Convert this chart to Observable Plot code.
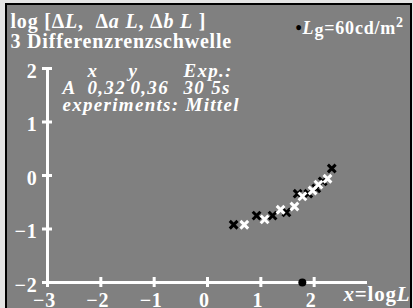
<!DOCTYPE html>
<html><head><meta charset="utf-8">
<script src="https://cdn.jsdelivr.net/npm/d3@7"></script>
<script src="https://cdn.jsdelivr.net/npm/@observablehq/plot@0.6"></script>
<style>
body{margin:0;background:#e4e4e4;}
#frame{position:absolute;left:5px;top:3px;width:403px;height:310px;border:2px solid #000;border-bottom:none;background:#808080;overflow:hidden;}
#frame svg{display:block;background:#808080;}
#frame svg text{white-space:pre;letter-spacing:0.8px;}
#frame svg g[font-style="italic"] text{letter-spacing:1.3px;}
</style></head><body><div id="frame"></div>
<script>
const xTicks = [-3, -2, -1, 0, 1, 2];
const xTickLabels = ["−3", "−2", "−1", "0", "1", "2"];
const yTicks = [-2, -1, 0, 1, 2];
const yTickLabels = ["−2", "−1", "0", "1", "2"];
const blackX = [0.49, 0.92, 1.22, 1.48, 1.69, 1.89, 2.04, 2.16, 2.33];
const blackY = [-0.92, -0.75, -0.75, -0.69, -0.34, -0.34, -0.24, -0.11, 0.13];
const whiteX = [0.69, 1.07, 1.37, 1.63, 1.78, 1.97, 2.08, 2.25];
const whiteY = [-0.92, -0.82, -0.64, -0.58, -0.39, -0.28, -0.17, -0.06];
const adaptLum = [60];
const titleLines = ["log [ΔL,  Δa L, Δb L ]", "3 Differenzrenzschwelle"];
const infoHeader = ["x", "y", "Exp.:"];
const infoValues = ["A", "0,32", "0,36", "30 5s"];
const infoNote = "experiments: Mittel";
const lumLabel = "•Lg=60cd/m2";
const xLabel = "x=logL";

const F = "Liberation Serif, Times New Roman, serif";
const big = {fill: "white", fontFamily: F, fontWeight: "bold", fontSize: 20};
const ital = {...big, fontStyle: "italic", fontSize: 19};
const hdrDx = [40, 81, 136];
const valDx = [15, 40, 83, 136];

const plot = Plot.plot({
  width: 403, height: 303,
  marginLeft: 40, marginRight: 43, marginTop: 63, marginBottom: 26,
  x: {domain: [-3, 3], axis: null},
  y: {domain: [-2, 2], axis: null},
  style: {background: "#808080", overflow: "visible"},
  marks: [
    Plot.ruleY([-2], {x1: -3, x2: 3, stroke: "white", strokeWidth: 3, insetLeft: -1.5}),
    Plot.ruleX([-3], {y1: -2, y2: 2, stroke: "white", strokeWidth: 3, insetBottom: -1.5}),
    Plot.ruleX(xTicks, {x: d => d, y1: () => -2, y2: () => -2, insetTop: -5, insetBottom: -5, stroke: "white", strokeWidth: 3}),
    Plot.ruleY(yTicks, {y: d => d, x1: () => -3, x2: () => -3, insetLeft: -5, insetRight: -5, stroke: "white", strokeWidth: 3}),
    Plot.text(xTicks, {x: d => d, y: () => -2, text: (d, i) => xTickLabels[i], dy: 18, dx: -3, ...big}),
    Plot.text(yTicks, {x: () => -3, y: d => d, text: (d, i) => yTickLabels[i], textAnchor: "end", dx: -10, dy: 3, ...big}),
    Plot.dot(adaptLum, {x: d => Math.log10(d), y: () => -2, r: 4, fill: "black"}),
    Plot.dot(blackX, {x: d => d, y: (d, i) => blackY[i], symbol: "times", r: 3.6, stroke: "black", strokeWidth: 3}),
    Plot.dot(whiteX, {x: d => d, y: (d, i) => whiteY[i], symbol: "times", r: 3.6, stroke: "white", strokeWidth: 3}),
    Plot.text([titleLines[0]], {frameAnchor: "top-left", lineAnchor: "bottom", textAnchor: "start", dx: -37, dy: -41, ...big}),
    Plot.text([titleLines[1]], {frameAnchor: "top-left", lineAnchor: "bottom", textAnchor: "start", dx: -37, dy: -21, ...big}),
    ...infoHeader.map((t, i) => Plot.text([t], {frameAnchor: "top-left", lineAnchor: "bottom", textAnchor: "start", dx: hdrDx[i], dy: 8, ...ital})),
    ...infoValues.map((t, i) => Plot.text([t], {frameAnchor: "top-left", lineAnchor: "bottom", textAnchor: "start", dx: valDx[i], dy: 25, ...ital})),
    Plot.text([infoNote], {frameAnchor: "top-left", lineAnchor: "bottom", textAnchor: "start", dx: 15, dy: 42, ...ital}),
    Plot.text([lumLabel], {frameAnchor: "top-left", lineAnchor: "bottom", textAnchor: "start", dx: 248, dy: -35, ...big, fontSize: 18}),
    Plot.text([xLabel], {frameAnchor: "bottom-right", lineAnchor: "bottom", textAnchor: "start", dx: -24, dy: 18, ...big, fontSize: 21})
  ]
});

const rich = {
  [titleLines[0]]: 'log [Δ<tspan font-style="italic">L</tspan>,  Δ<tspan font-style="italic">a L</tspan>, Δ<tspan font-style="italic">b L</tspan> ]',
  [lumLabel]: '<tspan fill="black">•</tspan><tspan font-style="italic">L</tspan><tspan dy="2">g</tspan><tspan dy="-2">=60cd/m</tspan><tspan dy="-7" font-size="14">2</tspan>',
  [xLabel]: '<tspan font-style="italic">x</tspan>=log<tspan font-style="italic">L</tspan>'
};
d3.select(plot).selectAll("text").each(function() {
  const t = this.textContent;
  if (rich[t]) this.innerHTML = rich[t];
});
document.getElementById("frame").appendChild(plot);
</script></body></html>
